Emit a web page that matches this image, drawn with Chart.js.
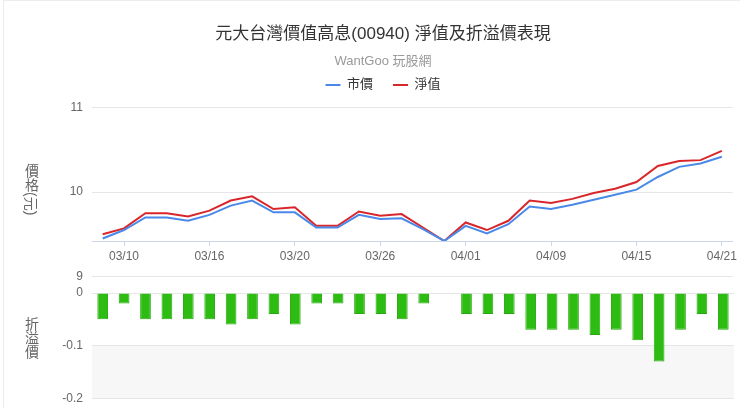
<!DOCTYPE html>
<html>
<head>
<meta charset="utf-8">
<script src="https://cdn.jsdelivr.net/npm/chart.js@4"></script>
<style>
  html, body { margin: 0; padding: 0; background: #fff; overflow: hidden; }
  #wrap { position: relative; width: 740px; height: 408px; overflow: hidden; }
  #wrap canvas { position: absolute; left: 0; top: 0; }
  .frame { position: absolute; left: 3px; top: 0; width: 740px; height: 408px; border-top: 1px solid #ececec; border-left: 1px solid #ececec; }
  .axis-title { position: absolute; left: 21px; writing-mode: vertical-rl; font-size: 14px; color: #666;
    font-family: 'Liberation Sans', 'Noto Sans CJK TC', sans-serif; }
  .axis-title span { text-orientation: sideways; }
</style>
</head>
<body>
<div id="wrap">
  <div class="frame"></div>
  <canvas id="price_chart" width="740" height="408"></canvas>
  <canvas id="premium_chart" width="740" height="425"></canvas>
  <div class="axis-title" style="top:164px">價格<span>(元)</span></div>
  <div class="axis-title" style="top:317px">折溢價</div>
</div>
<script>
const dates = ['03/07', '03/10', '03/11', '03/12', '03/13', '03/16', '03/17', '03/18', '03/19', '03/20',
  '03/21', '03/24', '03/25', '03/26', '03/27', '03/28', '03/31', '04/01', '04/02', '04/07',
  '04/08', '04/09', '04/10', '04/11', '04/14', '04/15', '04/16', '04/17', '04/18', '04/21'];

const marketPrice = [9.45, 9.55, 9.70, 9.70, 9.66, 9.73, 9.84, 9.90, 9.76, 9.76,
  9.58, 9.58, 9.73, 9.68, 9.69, 9.56, 9.42, 9.60, 9.51, 9.62,
  9.83, 9.80, 9.85, 9.91, 9.97, 10.03, 10.18, 10.30, 10.34, 10.42];

const netValue = [9.50, 9.57, 9.75, 9.75, 9.71, 9.78, 9.90, 9.95, 9.80, 9.82,
  9.60, 9.60, 9.77, 9.72, 9.74, 9.58, 9.42, 9.64, 9.55, 9.66,
  9.90, 9.87, 9.92, 9.99, 10.04, 10.12, 10.31, 10.37, 10.38, 10.49];

const premium = [-0.05, -0.02, -0.05, -0.05, -0.05, -0.05, -0.06, -0.05, -0.04, -0.06,
  -0.02, -0.02, -0.04, -0.04, -0.05, -0.02, 0, -0.04, -0.04, -0.04,
  -0.07, -0.07, -0.07, -0.08, -0.07, -0.09, -0.13, -0.07, -0.04, -0.07];

const priceTicks = [11, 10, 9];
const premiumTicks = [0, -0.1, -0.2];
const premiumBand = [-0.2, -0.1];

const FONT = "'Liberation Sans', 'Noto Sans CJK TC', sans-serif";
Chart.defaults.font.family = FONT;

// fixed width spacer on the right so the plot ends where the reference does
const rightSpacer = {
  position: 'right',
  grid: { display: false },
  ticks: { display: false },
  border: { display: false },
  afterFit: s => { s.width = 6; }
};

new Chart(document.getElementById('price_chart'), {
  type: 'line',
  data: {
    labels: dates,
    datasets: [{
      label: '市價',
      data: marketPrice,
      borderColor: '#4a89e8',
      backgroundColor: '#4a89e8',
      borderWidth: 2,
      pointRadius: 0,
      tension: 0
    }, {
      label: '淨值',
      data: netValue,
      borderColor: '#d9262b',
      backgroundColor: '#d9262b',
      borderWidth: 2,
      pointRadius: 0,
      tension: 0
    }]
  },
  options: {
    responsive: false,
    animation: false,
    layout: { padding: { left: 26, right: 0, top: 0, bottom: 137 } },
    plugins: {
      title: {
        display: true,
        text: '元大台灣價值高息(00940) 淨值及折溢價表現',
        color: '#333',
        font: { size: 17, weight: 'normal' },
        padding: { top: 24, bottom: 0 }
      },
      subtitle: {
        display: true,
        text: 'WantGoo 玩股網',
        color: '#999',
        font: { size: 13, lineHeight: 1 },
        padding: { top: 11, bottom: -10 }
      },
      legend: {
        labels: {
          usePointStyle: true,
          pointStyle: 'line',
          pointStyleWidth: 15,
          color: '#333',
          font: { size: 13 },
          padding: 20
        }
      },
      tooltip: { enabled: false }
    },
    scales: {
      x: {
        offset: true,
        grid: { drawOnChartArea: false, offset: false, tickLength: 5, color: '#ccd6eb' },
        border: { color: '#ccd6eb' },
        ticks: { autoSkip: false, maxRotation: 0, color: '#666', font: { size: 12 }, padding: 3 },
        afterBuildTicks: s => { s.ticks = s.ticks.filter(t => t.value % 4 === 1); },
        afterFit: s => { s.height = 30; }
      },
      xTop: {
        type: 'category',
        position: 'top',
        grid: { display: false },
        ticks: { display: false },
        border: { display: false },
        afterFit: s => { s.height = 6.5; }
      },
      y: {
        min: Math.min(...marketPrice, ...netValue),
        max: 11,
        afterBuildTicks: s => { s.ticks = priceTicks.map(v => ({ value: v })); },
        grid: { color: '#e6e6e6', drawTicks: false },
        border: { display: false },
        ticks: { color: '#666', font: { size: 12 }, padding: 9 },
        afterFit: s => { s.width = 66; }
      },
      yR: rightSpacer
    }
  }
});

const bandPlugin = {
  id: 'band',
  beforeDraw(chart) {
    const { ctx, chartArea, scales } = chart;
    const top = scales.y.getPixelForValue(premiumBand[1]);
    const bottom = scales.y.getPixelForValue(premiumBand[0]);
    ctx.save();
    ctx.fillStyle = '#f7f7f7';
    ctx.fillRect(chartArea.left, top, chartArea.right - chartArea.left, bottom - top);
    ctx.restore();
  }
};

new Chart(document.getElementById('premium_chart'), {
  type: 'bar',
  data: {
    labels: dates,
    datasets: [{
      label: '折溢價',
      data: premium,
      backgroundColor: '#2dbd12',
      borderColor: '#26a80e',
      borderWidth: ctx => (ctx.raw ? 1 : 0),
      barPercentage: 0.5,
      categoryPercentage: 1
    }]
  },
  options: {
    responsive: false,
    animation: false,
    layout: { padding: { left: 26, right: 0, top: 293, bottom: 0 } },
    plugins: {
      legend: { display: false },
      tooltip: { enabled: false }
    },
    scales: {
      x: { display: false, offset: true },
      y: {
        min: -0.22,
        max: 0,
        afterBuildTicks: s => { s.ticks = premiumTicks.map(v => ({ value: v })); },
        grid: { color: '#e6e6e6', drawTicks: false },
        border: { display: false },
        ticks: { color: '#666', font: { size: 12 }, padding: 9 },
        afterFit: s => { s.width = 66; }
      },
      yR: rightSpacer
    }
  },
  plugins: [bandPlugin]
});
</script>
</body>
</html>
